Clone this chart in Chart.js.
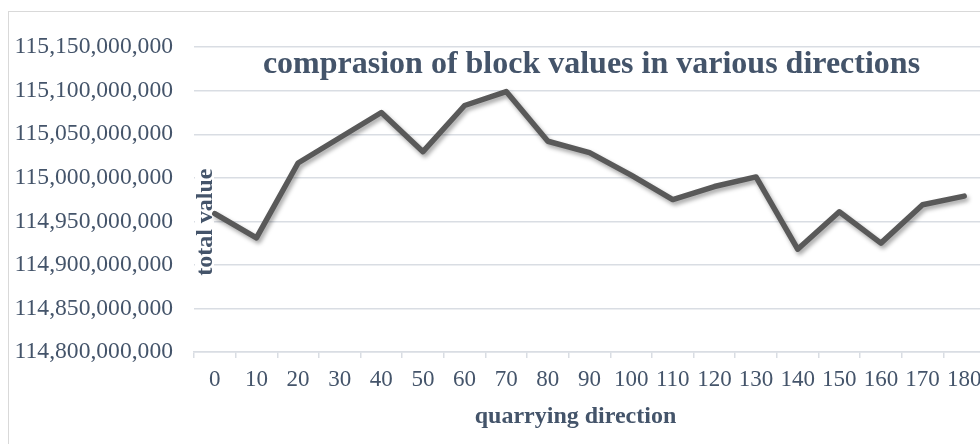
<!DOCTYPE html>
<html>
<head>
<meta charset="utf-8">
<script src="https://cdn.jsdelivr.net/npm/chart.js@4.4.1/dist/chart.umd.min.js"></script>
<style>
  html, body { margin: 0; padding: 0; background: #ffffff; overflow: hidden; width: 980px; height: 444px; }
  #wrap { position: absolute; left: 8px; top: 11px; width: 1000px; height: 440px; border: 1px solid #D9D9D9; background: #fff; }
  canvas { display: block; }
</style>
</head>
<body>
<div id="wrap"><canvas id="c" width="1000" height="440"></canvas></div>
<script>
// ---- data ----
const directions = ['0','10','20','30','40','50','60','70','80','90','100','110','120','130','140','150','160','170','180'];
const totalValues = [
  114959000000, 114931000000, 115017000000, 115046000000, 115075000000,
  115030000000, 115083000000, 115099000000, 115042000000, 115029000000,
  115003000000, 114975000000, 114990000000, 115001000000, 114918000000,
  114961000000, 114925000000, 114969000000, 114979000000
];
const yMin = 114800000000;
const yMax = 115150000000;
const yStep = 50000000;
const chartTitle = 'comprasion of block values in various directions';
const xTitle = 'quarrying direction';
const yTitle = 'total value';

const TEXT = '#44546A';
const GRID = '#D9DDE3';
const SERIF = "'Liberation Serif', 'Times New Roman', serif";

const shadowPlugin = {
  id: 'shadow',
  beforeDatasetDraw(chart) {
    const ctx = chart.ctx;
    ctx.save();
    ctx.shadowColor = 'rgba(0,0,0,0.35)';
    ctx.shadowBlur = 4;
    ctx.shadowOffsetX = 2;
    ctx.shadowOffsetY = 3;
  },
  afterDatasetDraw(chart) { chart.ctx.restore(); }
};

const titlesPlugin = {
  id: 'titles',
  beforeDatasetsDraw(chart) {
    const ctx = chart.ctx, a = chart.chartArea;
    ctx.save();
    ctx.font = "bold 24px " + SERIF;
    const w = ctx.measureText(yTitle).width;
    const cy = a.top + 175;
    ctx.fillStyle = '#ffffff';
    ctx.fillRect(a.left + 1, cy - w / 2 - 2, 19, w + 4);
    ctx.translate(a.left + 18, cy);
    ctx.rotate(-Math.PI / 2);
    ctx.fillStyle = TEXT;
    ctx.textAlign = 'center';
    ctx.textBaseline = 'alphabetic';
    ctx.fillText(yTitle, 0, 0);
    ctx.restore();
  },
  afterDraw(chart) {
    const ctx = chart.ctx, a = chart.chartArea;
    ctx.save();
    ctx.fillStyle = TEXT;
    ctx.textAlign = 'center';
    ctx.textBaseline = 'alphabetic';
    ctx.font = "bold 32px " + SERIF;
    ctx.fillText(chartTitle, (a.left + a.right) / 2 + 2, a.top + 26);
    ctx.font = "bold 24px " + SERIF;
    ctx.fillText(xTitle, (a.left + a.right) / 2 - 14, a.bottom + 71);
    ctx.restore();
  }
};

new Chart(document.getElementById('c'), {
  type: 'line',
  data: {
    labels: directions,
    datasets: [{
      data: totalValues,
      borderColor: '#595959',
      borderWidth: 5.5,
      pointRadius: 0,
      pointHoverRadius: 0,
      tension: 0,
      borderJoinStyle: 'round',
      borderCapStyle: 'round',
      fill: false
    }]
  },
  options: {
    responsive: false,
    animation: false,
    devicePixelRatio: 1,
    layout: { padding: { left: 0, right: 24, top: 33, bottom: 0 } },
    plugins: { legend: { display: false }, title: { display: false }, tooltip: { enabled: false } },
    scales: {
      x: {
        type: 'category',
        offset: true,
        grid: { display: true, drawOnChartArea: false, drawTicks: true, tickLength: 6, offset: true, color: GRID, lineWidth: 1.5 },
        border: { display: true, color: GRID, width: 1.5 },
        ticks: { color: TEXT, font: { family: SERIF, size: 23 }, padding: 8, maxRotation: 0, autoSkip: false },
        afterFit(scale) { scale.height = 100; }
      },
      y: {
        min: yMin,
        max: yMax,
        grid: { color: GRID, drawTicks: false, lineWidth: 1.5 },
        border: { display: false },
        ticks: {
          stepSize: yStep,
          color: TEXT,
          font: { family: SERIF, size: 23.6 },
          padding: 21,
          callback: (v) => Math.round(v).toLocaleString('en-US')
        },
        afterFit(scale) { scale.width = 185; }
      }
    }
  },
  plugins: [shadowPlugin, titlesPlugin]
});
</script>
</body>
</html>
